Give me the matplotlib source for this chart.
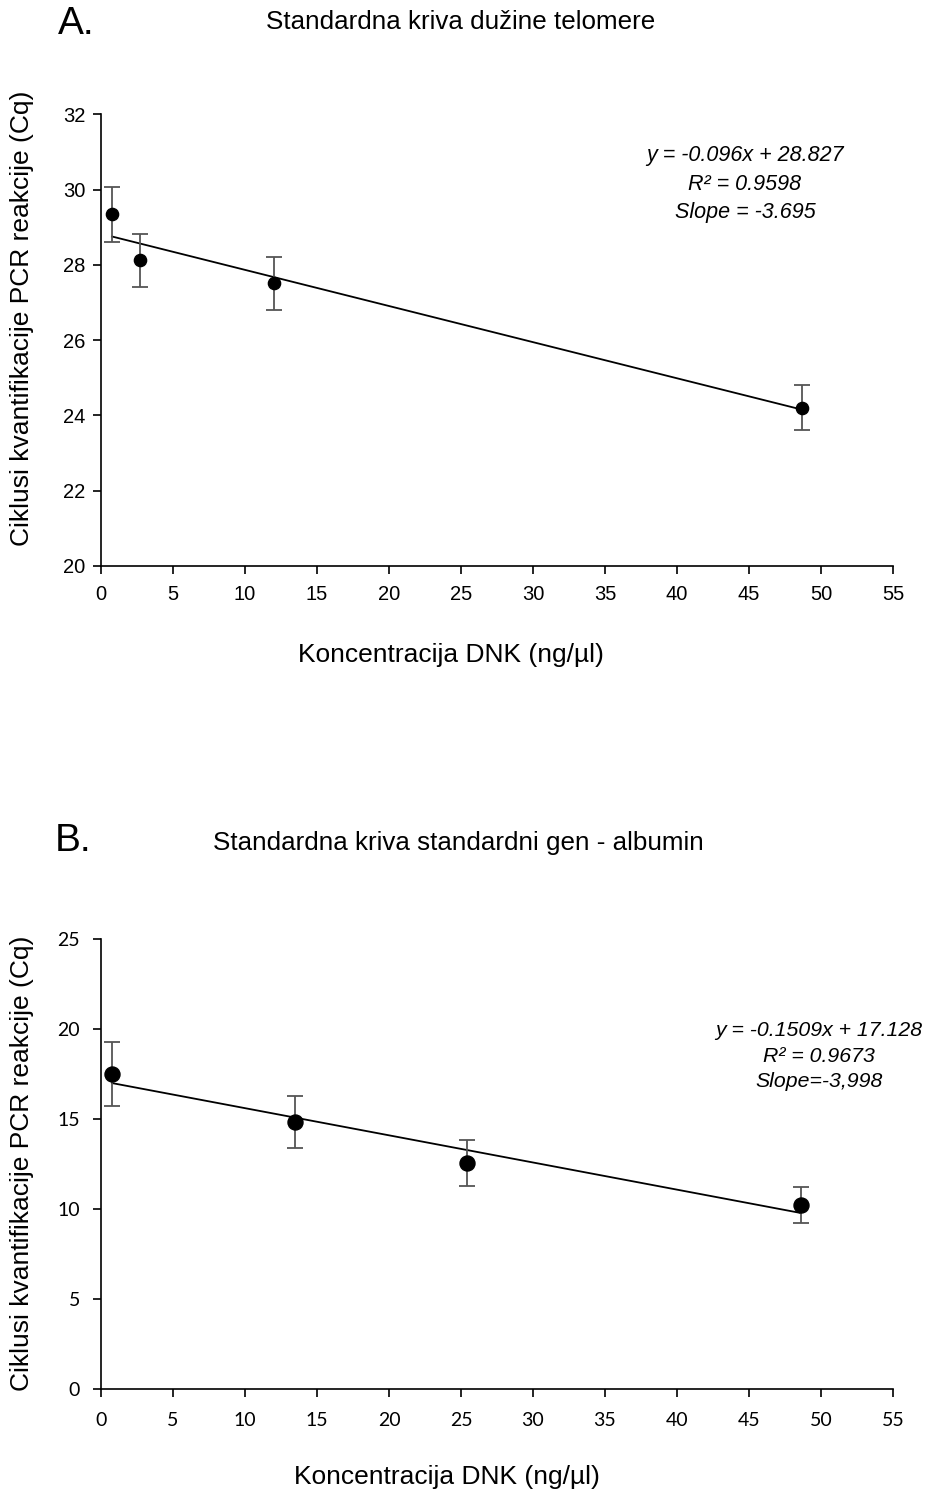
import numpy as np
import matplotlib
matplotlib.use("Agg")
import matplotlib.pyplot as plt

plt.rcParams['font.family'] = ['Liberation Sans', 'DejaVu Sans']

# panel A - telomere
xa = [0.76, 2.73, 12.0, 48.7]
ya = [29.34, 28.12, 27.51, 24.21]
ea = [0.73, 0.70, 0.70, 0.60]
slope_a, icpt_a = -0.096, 28.827

# panel B - albumin
xb = [0.76, 13.45, 25.4, 48.6]
yb = [17.52, 14.85, 12.59, 10.22]
eb = [1.76, 1.47, 1.27, 1.00]
slope_b, icpt_b = -0.1509, 17.128

xticks = list(range(0, 60, 5))
yticks_a = list(range(20, 34, 2))
yticks_b = list(range(0, 30, 5))

W, H = 928, 1492
fig = plt.figure(figsize=(W / 100, H / 100), dpi=100)

def px_axes(x0, y0, x1, y1):
    # pixel box -> figure coords
    return fig.add_axes([x0 / W, 1 - y1 / H, (x1 - x0) / W, (y1 - y0) / H])

def panel(ax, x, y, e, m, b, ylim, yticks, ms, tickfont, tsize, xpad, ypad):
    ax.errorbar(x, y, yerr=e, fmt='o', color='black', ms=ms, ecolor='#555555',
                elinewidth=1.3, capsize=6, capthick=1.3, zorder=3)
    xs = np.array([x[0], x[-1]])
    ax.plot(xs, m * xs + b, color='black', lw=1.3, zorder=2)
    ax.set_xlim(0, 55)
    ax.set_ylim(*ylim)
    ax.set_xticks(xticks)
    ax.set_yticks(yticks)
    for s in ['top', 'right']:
        ax.spines[s].set_visible(False)
    for s in ['left', 'bottom']:
        ax.spines[s].set_linewidth(1.2)
    ax.tick_params(direction='out', length=6, width=1.2, labelsize=tsize)
    ax.tick_params(axis='x', pad=xpad)
    ax.tick_params(axis='y', pad=ypad)
    for lab in ax.get_xticklabels() + ax.get_yticklabels():
        lab.set_family(tickfont)

axA = px_axes(101, 114.3, 893, 566)
panel(axA, xa, ya, ea, slope_a, icpt_a, (20, 32), yticks_a, 8.8,
      'Liberation Sans', 14.5, 8, 5)
axB = px_axes(101, 939.3, 893, 1389.3)
panel(axB, xb, yb, eb, slope_b, icpt_b, (0, 25), yticks_b, 10.8,
      'Lato', 14, 10, 9)

ylab = 'Ciklusi kvantifikacije PCR reakcije (Cq)'
xlab = 'Koncentracija DNK (ng/µl)'
fig.text(22 / W, 1 - 318 / H, ylab, rotation=90, ha='center', va='center', fontsize=19)
fig.text(22 / W, 1 - 1163 / H, ylab, rotation=90, ha='center', va='center', fontsize=19)
fig.text(451 / W, 1 - 655 / H, xlab, ha='center', va='center', fontsize=19)
fig.text(447 / W, 1 - 1477 / H, xlab, ha='center', va='center', fontsize=19)

fig.text(58 / W, 1 - 24 / H, 'A.', ha='left', va='center', fontsize=28)
fig.text(461 / W, 1 - 22 / H, 'Standardna kriva dužine telomere',
         ha='center', va='center', fontsize=18.7)
fig.text(55 / W, 1 - 841 / H, 'B.', ha='left', va='center', fontsize=28)
fig.text(458 / W, 1 - 843 / H, 'Standardna kriva standardni gen - albumin',
         ha='center', va='center', fontsize=18.7)

fig.text(745 / W, 1 - 184 / H,
         'y = %.3fx + %.3f\nR² = 0.9598\nSlope = -3.695' % (slope_a, icpt_a),
         ha='center', va='center', fontsize=15.5, style='italic', linespacing=1.45)
fig.text(819 / W, 1 - 1056 / H,
         'y = %.4fx + %.3f\nR² = 0.9673\nSlope=-3,998' % (slope_b, icpt_b),
         ha='center', va='center', fontsize=15.3, style='italic', linespacing=1.45)

fig.savefig('out.png', dpi=100)
